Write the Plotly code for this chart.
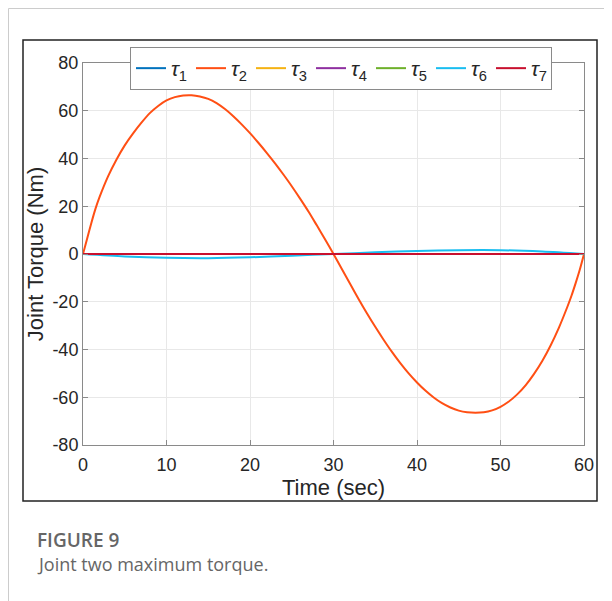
import plotly.graph_objects as go

# ---- data ----
t_tau2 = [0, 0.5, 1, 1.5, 2, 3, 4, 5, 6, 7, 8, 9, 10, 11, 12, 13, 14, 15, 16, 17, 18, 19, 20,
          21, 22, 23, 24, 25, 26, 27, 28, 29, 30, 31, 32, 33, 34, 35, 36, 37, 38, 39, 40,
          41, 42, 43, 44, 45, 46, 47, 48, 49, 50, 51, 52, 53, 54, 55, 56, 57, 58, 58.5, 59, 59.5, 60]
tau2 = [0, 6.5, 13, 19, 24, 32.5, 39.5, 45.5, 50.5, 55, 59, 62, 64.3, 65.7, 66.4, 66.5, 66.0, 65.0, 63.2,
        60.7, 57.7, 54.3, 50.6, 46.6, 42.4, 38.0, 33.3, 28.4, 23.2, 17.8, 12.0, 6.1, 0,
        -6.3, -12.6, -18.8, -24.8, -30.5, -35.9, -41, -45.7, -50, -53.8, -57.2, -60.1, -62.5, -64.3,
        -65.6, -66.3, -66.5, -66.3, -65.5, -64, -61.8, -58.8, -55, -50.3, -44.8, -38.3,
        -30.8, -22.2, -17.5, -12.2, -6.5, 0]

t_small = [0, 5, 10, 15, 20, 25, 30, 35, 40, 45, 50, 55, 60]
tau6 = [0, -1.0, -1.6, -1.75, -1.4, -0.7, 0, 0.7, 1.3, 1.6, 1.6, 1.0, 0]
tau_zero = [0, 0, 0, 0, 0, 0, 0, 0, 0, 0, 0, 0, 0]

series_names = ["τ1", "τ2", "τ3", "τ4", "τ5", "τ6", "τ7"]
series_colors = ["#0072BD", "#FF4F14", "#F5B212", "#8E2FA0", "#6DB02A", "#19BDF0", "#C8102E"]

x_ticks = [0, 10, 20, 30, 40, 50, 60]
y_ticks = [-80, -60, -40, -20, 0, 20, 40, 60, 80]

series_x = [t_small, t_tau2, t_small, t_small, t_small, t_small, t_small]
series_y = [tau_zero, tau2, tau_zero, tau_zero, tau_zero, tau6, tau_zero]

fig = go.Figure()
for name, col, xs, ys in zip(series_names, series_colors, series_x, series_y):
    label = "<i>τ</i><sub>" + name[1:] + "</sub>"
    fig.add_trace(go.Scatter(x=xs, y=ys, mode="lines", name=label,
                             line=dict(color=col, width=2, shape="spline", smoothing=0.8)))

# the page body has an 8px margin, so work in reference pixels minus OFF
OFF = 8
W, H = 612 - OFF, 601 - OFF
L, R, T, B = 83 - OFF, 584 - OFF, 63 - OFF, 445 - OFF
pw, ph = R - L, B - T

def px(x):
    return (x - OFF - L) / pw

def py(y):
    return (B - (y - OFF)) / ph

FONT = "Liberation Sans, Arial"
axis_common = dict(showline=True, linecolor="#8a8a8a", linewidth=1, mirror="ticks",
                   ticks="inside", ticklen=5, tickcolor="#8a8a8a", automargin=False,
                   showgrid=True, gridcolor="#e8e8e8", gridwidth=1, zeroline=False,
                   tickfont=dict(family=FONT, size=18, color="#262626"))

fig.update_layout(
    width=W, height=H,
    margin=dict(l=L, r=W - R, t=T, b=H - B, autoexpand=False),
    paper_bgcolor="white", plot_bgcolor="white",
    showlegend=True,
    legend=dict(orientation="h", x=px(130), y=py(47), xanchor="left", yanchor="top",
                bgcolor="white", bordercolor="#8a8a8a", borderwidth=1,
                font=dict(family=FONT, size=21, color="#262626"),
                entrywidth=15, entrywidthmode="pixels", itemwidth=30, tracegroupgap=0),
    xaxis=dict(range=[0, 60], tickvals=x_ticks, ticktext=[str(v) for v in x_ticks],
               ticklabelstandoff=3,
               title=dict(text="Time (sec)", font=dict(family=FONT, size=22, color="#262626"),
                          standoff=0),
               **axis_common),
    yaxis=dict(range=[-80, 80], tickvals=y_ticks, ticktext=[str(v) for v in y_ticks],
               title=dict(text="Joint Torque (Nm)", font=dict(family=FONT, size=22, color="#262626"),
                          standoff=2),
               **axis_common),
    shapes=[
        # outer black frame
        dict(type="rect", xref="paper", yref="paper", x0=px(23), x1=px(597), y0=py(501), y1=py(40),
             line=dict(color="#222222", width=1.5), layer="above"),
        # page border lines (as close to the reference position as the page allows)
        dict(type="line", xref="paper", yref="paper", x0=px(8.5), x1=px(612), y0=py(8.5), y1=py(8.5),
             line=dict(color="#cccccc", width=1)),
        dict(type="line", xref="paper", yref="paper", x0=px(8.5), x1=px(8.5), y0=py(8.5), y1=py(601),
             line=dict(color="#cccccc", width=1)),
    ],
    annotations=[
        dict(text="FIGURE 9", xref="paper", yref="paper", x=px(35), y=py(540), xanchor="left",
             yanchor="middle", showarrow=False,
             font=dict(family="Open Sans", size=19, color="#666666", weight=600)),
        dict(text="Joint two maximum torque.", xref="paper", yref="paper", x=px(35), y=py(564),
             xanchor="left", yanchor="middle", showarrow=False,
             font=dict(family="Open Sans", size=18, color="#666666")),
    ],
)

fig.write_html("out.html")
